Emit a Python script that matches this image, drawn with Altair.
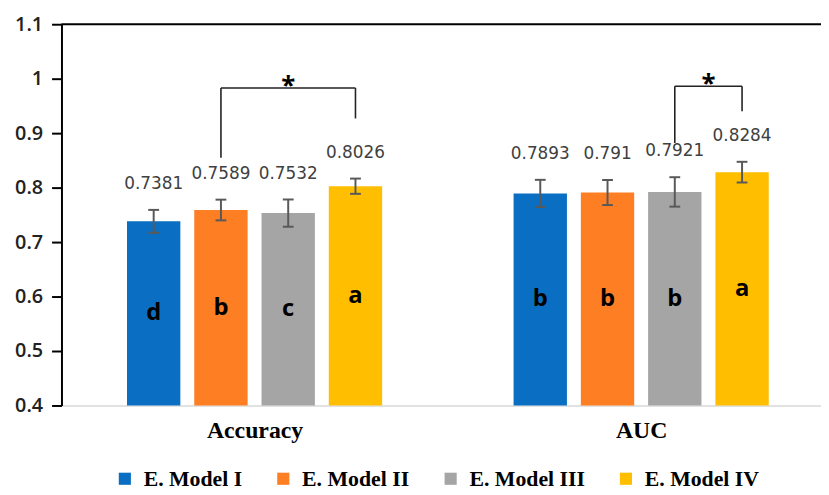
import altair as alt
import pandas as pd

metrics = ["Accuracy", "AUC"]
models = ["E. Model I", "E. Model II", "E. Model III", "E. Model IV"]
colors = ["#0A6FC2", "#FD7E23", "#A5A5A5", "#FFBF00"]

accuracy_values = [0.7381, 0.7589, 0.7532, 0.8026]
auc_values = [0.7893, 0.791, 0.7921, 0.8284]
accuracy_err = [0.021, 0.019, 0.025, 0.014]
auc_err = [0.025, 0.023, 0.027, 0.019]
accuracy_letters = ["d", "b", "c", "a"]
auc_letters = ["b", "b", "b", "a"]

# significance brackets (y values in data units)
br_metric = ["Accuracy", "AUC"]
br_from = ["E. Model II", "E. Model III"]
br_to = ["E. Model IV", "E. Model IV"]
br_top = [0.983, 0.986]
br_left_end = [0.855, 0.882]
br_right_end = [0.927, 0.940]

Y_MIN, Y_MAX = 0.4, 1.1
BAR_STEP = 0.174   # model spacing inside a group (group step = 1)
BAR_HALF = 0.069
CAP_HALF = 0.014

rows = []
for g, (metric, vals, errs, lets) in enumerate(zip(
        metrics, [accuracy_values, auc_values], [accuracy_err, auc_err],
        [accuracy_letters, auc_letters])):
    for m, model in enumerate(models):
        v, e = vals[m], errs[m]
        xc = g + (m - 1.5) * BAR_STEP
        rows.append(dict(metric=metric, model=model, value=v, err=e,
                         lo=v - e, hi=v + e, mid=(Y_MIN + v) / 2,
                         letter=lets[m], label=f"{v:g}",
                         xc=xc, xl=xc - BAR_HALF, xr=xc + BAR_HALF,
                         cl=xc - CAP_HALF, cr=xc + CAP_HALF))
df = pd.DataFrame(rows)

def center(metric, model):
    return float(df[(df.metric == metric) & (df.model == model)].xc.iloc[0])

br = pd.DataFrame(dict(metric=br_metric, top=br_top, left_end=br_left_end,
                       right_end=br_right_end))
br["x_left"] = [center(a, b) for a, b in zip(br_metric, br_from)]
br["x_right"] = [center(a, b) for a, b in zip(br_metric, br_to)]
br["x_mid"] = (br.x_left + br.x_right) / 2
br["star"] = "*"

W, H = 767, 385
xscale = alt.Scale(domain=[-0.4995, 1.4652], nice=False, zero=False)
yscale = alt.Scale(domain=[Y_MIN, Y_MAX], nice=False, zero=False)

label_expr = f"datum.value == 0 ? '{metrics[0]}' : '{metrics[1]}'"

x_axis = alt.Axis(values=[0, 1], labelExpr=label_expr, title=None, grid=False,
                  ticks=False, tickSize=0, domainColor="#d9d9d9", domainWidth=1.5,
                  labelFont="Liberation Serif", labelFontWeight="bold",
                  labelFontSize=24, labelColor="black", labelPadding=13)
y_axis = alt.Axis(values=[0.4, 0.5, 0.6, 0.7, 0.8, 0.9, 1.0, 1.1], format="~g",
                  title=None, grid=False, domainColor="black", domainWidth=2,
                  tickColor="black", tickWidth=2, tickSize=10, labelPadding=9,
                  labelFont="Open Sans", labelFontWeight=600, labelFontSize=20,
                  labelColor="#222222")

base = alt.Chart(df)

bars = base.mark_bar().encode(
    x=alt.X("xl:Q", scale=xscale, axis=x_axis),
    x2="xr:Q",
    y=alt.Y("value:Q", scale=yscale, axis=y_axis),
    y2=alt.datum(Y_MIN),
    color=alt.Color("model:N", scale=alt.Scale(domain=models, range=colors),
                    legend=alt.Legend(orient="none", legendX=53, legendY=448,
                                      direction="horizontal", title=None,
                                      symbolType="square", symbolSize=150,
                                      symbolStrokeWidth=0, labelOffset=8,
                                      columnPadding=30, padding=0,
                                      labelFont="Liberation Serif",
                                      labelFontWeight="bold", labelFontSize=22,
                                      labelColor="black", labelLimit=300)),
)

err_v = base.mark_rule(color="#595959", strokeWidth=2).encode(
    x="xc:Q", y="lo:Q", y2="hi:Q")
cap_hi = base.mark_rule(color="#595959", strokeWidth=2).encode(
    x="cl:Q", x2="cr:Q", y="hi:Q")
cap_lo = base.mark_rule(color="#595959", strokeWidth=2).encode(
    x="cl:Q", x2="cr:Q", y="lo:Q")

values_txt = base.mark_text(font="DejaVu Sans", fontSize=17, color="#404040",
                            baseline="middle", dy=-26).encode(
    x="xc:Q", y="hi:Q", text="label:N")

letters_txt = base.mark_text(font="Open Sans", fontWeight="bold", fontSize=24,
                             color="black", baseline="middle").encode(
    x="xc:Q", y="mid:Q", text="letter:N")

bb = alt.Chart(br)
br_l = bb.mark_rule(color="#222222", strokeWidth=1.6).encode(
    x="x_left:Q", y="left_end:Q", y2="top:Q")
br_r = bb.mark_rule(color="#222222", strokeWidth=1.6).encode(
    x="x_right:Q", y="right_end:Q", y2="top:Q")
br_h = bb.mark_rule(color="#222222", strokeWidth=1.6).encode(
    x="x_left:Q", x2="x_right:Q", y="top:Q")
stars = bb.mark_text(font="Open Sans", fontWeight="bold", fontSize=26,
                     color="black", baseline="alphabetic", dy=6).encode(
    x="x_mid:Q", y="top:Q", text="star:N")

top_line = alt.Chart(pd.DataFrame({"y": [Y_MAX]})).mark_rule(
    color="black", strokeWidth=2).encode(
    y="y:Q", x=alt.value(0), x2=alt.value(W))

chart = alt.layer(
    bars, err_v, cap_hi, cap_lo, values_txt, letters_txt,
    br_l, br_r, br_h, stars, top_line
).properties(
    width=W, height=H,
    autosize=alt.AutoSizeParams(type="none"),
    padding={"left": 54, "top": 14, "right": 0, "bottom": 86},
    background="white",
).configure_view(stroke=None)

chart.save("out.html", embed_options={"renderer": "svg", "actions": False})
